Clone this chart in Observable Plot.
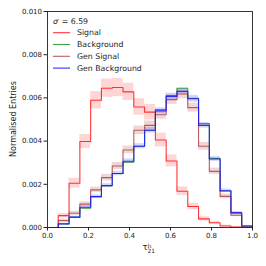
<!DOCTYPE html>
<html><head><meta charset="utf-8">
<script src="https://cdn.jsdelivr.net/npm/d3@7"></script>
<script src="https://cdn.jsdelivr.net/npm/@observablehq/plot@0.6"></script>
<style>body{margin:0;background:#fff}</style>
</head><body><div id="chart"></div>
<script>
// ---- data ----
const nBins = 19;
const binEdges = d3.range(nBins + 1).map(i => i / nBins);
const xTicks = [0, 0.2, 0.4, 0.6, 0.8, 1.0];
const yTicks = [0, 0.002, 0.004, 0.006, 0.008, 0.010];
const seriesNames = ["Signal", "Background", "Gen Signal", "Gen Background"];
const signal =      [0, 0.00055, 0.00205, 0.00398, 0.00589, 0.00645, 0.00648, 0.00628, 0.00558, 0.00534, 0.00405, 0.00308, 0.00168, 0.00097, 0.00040, 0.00022, 0.00007, 0.00002, 0.0];
const signalErr =   [0, 0.00010, 0.00023, 0.00032, 0.00040, 0.00042, 0.00042, 0.00040, 0.00038, 0.00036, 0.00032, 0.00028, 0.00020, 0.00015, 0.00010, 0.00007, 0.00004, 0.00002, 0];
const background =  [0, 0.00016, 0.00047, 0.00089, 0.00143, 0.00194, 0.00250, 0.00302, 0.00376, 0.00450, 0.00546, 0.00611, 0.00645, 0.00598, 0.00481, 0.00320, 0.00169, 0.00066, 0.00007];
const genSignal =   [0, 0.00032, 0.00066, 0.00108, 0.00174, 0.00231, 0.00285, 0.00359, 0.00450, 0.00473, 0.00522, 0.00592, 0.00618, 0.00555, 0.00376, 0.00260, 0.00144, 0.00057, 0.00003];
const genSignalErr =[0, 0.00006, 0.00009, 0.00011, 0.00013, 0.00015, 0.00016, 0.00018, 0.00020, 0.00020, 0.00021, 0.00022, 0.00022, 0.00021, 0.00018, 0.00015, 0.00011, 0.00007, 0.00002];
const genBackground=[0, 0.00017, 0.00048, 0.00094, 0.00143, 0.00194, 0.00250, 0.00307, 0.00376, 0.00450, 0.00540, 0.00607, 0.00630, 0.00596, 0.00473, 0.00317, 0.00170, 0.00069, 0.00007];
const genBackgroundErr=[0, 0.00003, 0.00005, 0.00007, 0.00008, 0.00009, 0.00010, 0.00011, 0.00012, 0.00013, 0.00014, 0.00015, 0.00015, 0.00015, 0.00013, 0.00011, 0.00008, 0.00005, 0.00002];
const sigmaText = "6.59";

const seriesColors = ["#ff2020", "#2e962e", "#b84a4a", "#1a1aff"];
const bandColors = ["#ff4040", null, "#b84a4a", "#4040ff"];
const seriesValues = [signal, background, genSignal, genBackground];
const seriesErrs = [signalErr, null, genSignalErr, genBackgroundErr];

// ---- build tables ----
const lineRows = [];
const bandRows = [];
seriesNames.forEach((name, s) => {
  const vals = seriesValues[s];
  vals.forEach((v, i) => lineRows.push({name, x: binEdges[i], y: v}));
  lineRows.push({name, x: binEdges[nBins], y: vals[nBins - 1]});
  const errs = seriesErrs[s];
  if (errs) vals.forEach((v, i) => bandRows.push({name, x1: binEdges[i], x2: binEdges[i + 1], y1: v - errs[i], y2: v + errs[i]}));
});

const plot = Plot.plot({
  width: 266, height: 266,
  marginLeft: 47, marginRight: 14, marginTop: 11, marginBottom: 39,
  style: {fontFamily: "DejaVu Sans", fontSize: "7px", background: "#fff", color: "#222"},
  x: {domain: [0, 1]},
  y: {domain: [0, 0.010]},
  color: {domain: seriesNames, range: seriesColors},
  marks: [
    Plot.rect(bandRows, {x1: "x1", x2: "x2", y1: "y1", y2: "y2",
      fill: d => bandColors[seriesNames.indexOf(d.name)], fillOpacity: 0.22}),
    ...seriesNames.map((name, s) => Plot.line(lineRows.filter(d => d.name === name), {
      x: "x", y: "y", curve: "step-after", stroke: seriesColors[s], strokeWidth: 1.1, strokeOpacity: 0.9})),
    Plot.axisX({ticks: xTicks, tickFormat: d3.format(".1f"), tickSize: 3.5, tickPadding: 2, label: null}),
    Plot.axisY({ticks: yTicks, tickFormat: d3.format(".3f"), tickSize: 3.5, tickPadding: 2, label: null}),
    Plot.frame({stroke: "#222", strokeWidth: 0.9})
  ]
});

const svg = d3.select(plot);
const xs = plot.scale("x"), ys = plot.scale("y");
const fLeft = xs.range[0], fRight = xs.range[1];
const fTop = ys.range[1], fBottom = ys.range[0];

// legend
const lg = svg.append("g").attr("font-family", "DejaVu Sans").attr("font-size", 7.8).attr("fill", "#222")
  .attr("text-anchor", "start");
const s0 = lg.append("text").attr("x", fLeft + 6).attr("y", fTop + 10).attr("dy", "0.35em");
s0.append("tspan").attr("font-style", "italic").text("σ");
s0.append("tspan").attr("font-size", 5.5).attr("dy", "-0.2em").text("′");
s0.append("tspan").attr("dy", "0.2em").text(" = " + sigmaText);
seriesNames.forEach((name, i) => {
  const yy = fTop + 21.7 + i * 11.8;
  lg.append("line").attr("x1", fLeft + 6).attr("x2", fLeft + 23).attr("y1", yy).attr("y2", yy)
    .attr("stroke", seriesColors[i]).attr("stroke-width", 1.1).attr("stroke-opacity", 0.9);
  lg.append("text").attr("x", fLeft + 30).attr("y", yy).attr("dy", "0.35em").text(name);
});

// x label
const xl = svg.append("text").attr("font-family", "DejaVu Sans").attr("font-size", 8.5).attr("fill", "#222")
  .attr("text-anchor", "start")
  .attr("x", (fLeft + fRight) / 2 - 7).attr("y", fBottom + 20).attr("dy", "0.35em");
xl.append("tspan").text("τ");
xl.append("tspan").attr("font-size", 5.5).attr("dy", "-0.55em").text("j");
xl.append("tspan").attr("font-size", 4).attr("dy", "0.2em").text("1");
xl.append("tspan").attr("font-size", 5.8).attr("x", (fLeft + fRight) / 2 - 2).attr("dy", "0.9em").text("21");

// y label
svg.append("text").attr("font-family", "DejaVu Sans").attr("font-size", 8).attr("fill", "#222")
  .attr("text-anchor", "middle").attr("transform", `translate(13.5,${(fTop + fBottom) / 2}) rotate(-90)`)
  .attr("dy", "0.35em").text("Normalised Entries");

document.getElementById("chart").appendChild(plot);
</script>
</body></html>
